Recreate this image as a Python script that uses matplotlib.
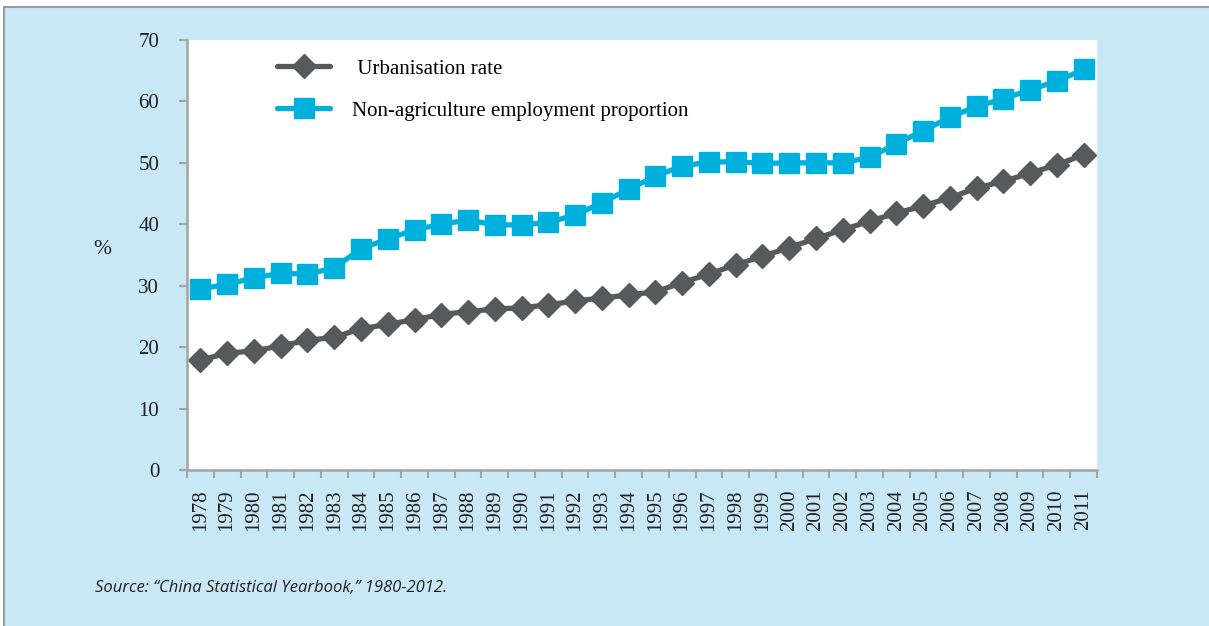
import matplotlib.pyplot as plt
from matplotlib.patches import Rectangle
from matplotlib.ticker import FixedLocator


# Anni e serie (valori in %).
years = [str(y) for y in range(1978, 2012)]
urbanisation = [17.9, 19.0, 19.4, 20.2, 21.1, 21.6, 23.0, 23.7, 24.5, 25.3,
                25.8, 26.2, 26.4, 26.9, 27.5, 28.0, 28.5, 29.0, 30.5, 31.9,
                33.4, 34.8, 36.2, 37.7, 39.1, 40.5, 41.8, 43.0, 44.3, 45.9,
                47.0, 48.3, 49.7, 51.3]
non_agri = [29.5, 30.2, 31.3, 32.0, 31.9, 32.9, 36.0, 37.6, 39.1, 40.0,
            40.7, 39.9, 39.9, 40.3, 41.5, 43.5, 45.7, 47.8, 49.5, 50.1,
            50.2, 49.9, 50.0, 50.0, 50.0, 50.9, 53.1, 55.2, 57.4, 59.2,
            60.4, 61.9, 63.3, 65.2]
y_ticks = [0, 10, 20, 30, 40, 50, 60, 70]

BG = "#c9e8f5"
GREY = "#58595b"
BLUE = "#00b0dc"
AXIS = "#a3a3a3"
TEXT = "#231f20"
SERIF = "Liberation Serif"


def main():
    fig = plt.figure(figsize=(12.09, 6.26), dpi=100)
    fig.patch.set_facecolor("white")

    # Sfondo azzurro con bordo grigio in alto e a sinistra.
    fig.patches.append(Rectangle((3.5 / 1209, -0.05), 1.05, 1.05 - 6.5 / 626,
                                 transform=fig.transFigure, facecolor=BG,
                                 edgecolor="#9a9a9a", linewidth=1.5, zorder=-5))

    ax = fig.add_axes([187 / 1209, 1 - 470 / 626, 910 / 1209, 430 / 626])
    ax.set_zorder(2)
    ax.set_facecolor("white")

    x = range(len(years))
    ax.plot(x, urbanisation, color=GREY, lw=3.8, marker="D", markersize=12.5,
            label=" Urbanisation rate", solid_capstyle="round")
    ax.plot(x, non_agri, color=BLUE, lw=3.8, marker="s", markersize=14,
            label="Non-agriculture employment proportion", solid_capstyle="round")

    ax.set_xlim(-0.5, len(years) - 0.5)
    ax.set_ylim(0, 70)
    ax.set_yticks(y_ticks)
    ax.set_xticks(list(x))
    ax.set_xticklabels(years, rotation=90, fontsize=15, family=SERIF, color=TEXT)
    ax.xaxis.set_minor_locator(FixedLocator([i - 0.5 for i in range(len(years) + 1)]))
    ax.tick_params(axis="x", which="major", length=0, pad=14)
    ax.tick_params(axis="x", which="minor", length=6, width=1.5, color=AXIS)
    ax.tick_params(axis="y", length=6, width=1.5, color=AXIS, pad=14,
                   labelsize=15, labelcolor=TEXT)
    for lab in ax.get_yticklabels():
        lab.set_family(SERIF)

    for side in ["top", "right"]:
        ax.spines[side].set_visible(False)
    for side in ["left", "bottom"]:
        ax.spines[side].set_color(AXIS)
        ax.spines[side].set_linewidth(1.8)

    ax.set_ylabel("%", rotation=0, fontsize=15.5, family=SERIF, color=TEXT,
                  va="center", ha="center")
    ax.yaxis.set_label_coords(-0.093, (470 - 250) / 430)

    # Legenda senza cornice in alto a sinistra, come nell'originale.
    ax.legend(loc="upper left", bbox_to_anchor=(0.0898, 0.975), frameon=False,
              borderaxespad=0, prop={"family": SERIF, "size": 15},
              handlelength=2.55, handletextpad=1.05, labelspacing=1.08)

    fig.text(95 / 1209, 1 - 588 / 626,
             "Source: \u201cChina Statistical Yearbook,\u201d 1980-2012.",
             fontsize=12, style="italic", family="Open Sans", color=TEXT,
             va="center", ha="left")

    fig.savefig("out.png", dpi=100, facecolor=fig.get_facecolor())


if __name__ == "__main__":
    main()
